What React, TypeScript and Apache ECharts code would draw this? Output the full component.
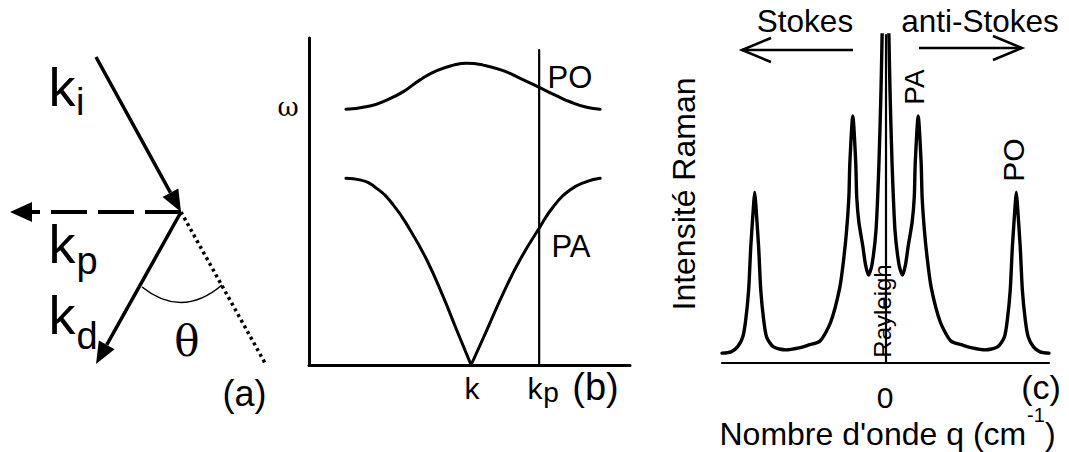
import React, { useEffect, useRef } from 'react';
import * as echarts from 'echarts';

// ---------- Data ----------
// Panel (b): dispersion curves, wavevector 0..10, frequency 0..10
const dispersionPO: number[][] = [
  [1.15, 7.82], [1.9, 7.92], [2.42, 8.1], [2.94, 8.36], [3.46, 8.72], [3.98, 9.0],
  [4.5, 9.17], [4.91, 9.23], [5.43, 9.17], [6.05, 9.0], [6.68, 8.72], [7.17, 8.49],
  [7.72, 8.23], [8.13, 8.05], [8.65, 7.88], [9.07, 7.82],
];
const dispersionPALeft: number[][] = [
  [1.15, 5.71], [1.59, 5.66], [2.11, 5.4], [2.63, 4.89], [3.15, 4.13], [3.67, 3.21],
  [4.18, 2.09], [4.6, 1.07], [5.05, 0],
];
const dispersionPARight: number[][] = [
  [5.05, 0], [5.54, 1.07], [6.05, 2.19], [6.57, 3.21], [7.17, 4.18], [7.61, 4.84],
  [8.13, 5.35], [8.65, 5.61], [9.07, 5.71],
];
const kpValue = 7.17;
const kpTop = 9.63;
const kpLine: number[][] = [[kpValue, 0], [kpValue, kpTop]];

// Panel (c): Raman spectrum, wavenumber -100..100 (arb.), intensity 0..100
const ramanSpectrum: number[][] = [
  [-100, 3.0], [-94.5, 3.4], [-90.5, 4.9], [-87.3, 7.9], [-85.5, 13.1], [-83.7, 22.3],
  [-82.4, 35.4], [-80.6, 48.8], [-80, 52.1], [-79.4, 48.8], [-77.6, 35.4], [-76.3, 22.3],
  [-74.5, 13.1], [-72.7, 7.9], [-68.5, 4.9], [-61, 4.0], [-53, 4.6], [-47, 5.5],
  [-40, 6.7], [-33.5, 12.5], [-28, 22.9], [-25.5, 32], [-23.7, 41], [-22.4, 50.6],
  [-21.8, 61], [-20, 75.3], [-18.2, 61], [-17.6, 50.6], [-16.3, 43], [-13.8, 35.4],
  [-12.2, 29.9], [-10.4, 26.8], [-8.3, 29.9], [-5.8, 40.5], [-4.0, 61], [-2.75, 83.2],
  [-2.1, 99.4], [-1.2, 125], [0, 160], [1.2, 125], [2.1, 99.4], [2.75, 83.2],
  [4.0, 61], [5.8, 40.5], [8.3, 29.9], [10.4, 26.8], [12.2, 29.9], [13.8, 35.4],
  [16.3, 43], [17.6, 50.6], [18.2, 61], [20, 75.3], [21.8, 61], [22.4, 50.6],
  [23.7, 41], [25.5, 32], [28, 22.9], [33.5, 12.5], [40, 6.7], [47, 5.5],
  [53, 4.6], [61, 4.0], [68.5, 4.9], [72.7, 7.9], [74.5, 13.1], [76.3, 22.3],
  [77.6, 35.4], [79.4, 48.8], [80, 52.1], [80.6, 48.8], [82.4, 35.4], [83.7, 22.3],
  [85.5, 13.1], [87.3, 7.9], [90.5, 4.9], [94.5, 3.4], [100, 3.0],
];

const SANS = '"Liberation Sans", Arial, Helvetica, sans-serif';
const SERIF = '"DejaVu Serif", "Liberation Serif", serif';

function arrowHead(from: number[], to: number[], len: number, half: number) {
  const dx = to[0] - from[0];
  const dy = to[1] - from[1];
  const l = Math.sqrt(dx * dx + dy * dy);
  const ux = dx / l, uy = dy / l;
  const nx = -uy, ny = ux;
  const bx = to[0] - len * ux, by = to[1] - len * uy;
  return {
    base: [bx, by],
    points: [[to[0], to[1]], [bx + half * nx, by + half * ny], [bx - half * nx, by - half * ny]],
  };
}

function txt(x: number, y: number, text: string, size: number, opts: any = {}) {
  return {
    type: 'text',
    x,
    y,
    rotation: opts.rotation || 0,
    style: {
      text,
      font: `${size}px ${opts.family || SANS}`,
      fill: '#000',
      textAlign: opts.align || 'center',
      textVerticalAlign: 'middle',
    },
  };
}

export default function App() {
  const ref = useRef<HTMLDivElement>(null);

  useEffect(() => {
    if (!ref.current) return;
    const chart = echarts.init(ref.current, undefined, { renderer: 'svg' });

    const V = [181, 212];
    const kiStart = [96, 57];
    const kdEnd = [96, 364];
    const kpEnd = [10, 212];
    const ki = arrowHead(kiStart, V, 22, 9);
    const kd = arrowHead(V, kdEnd, 22, 9);
    const kp = arrowHead(V, kpEnd, 22, 10);

    const blackLine = (w: number) => ({ stroke: '#000', lineWidth: w, fill: 'none' });

    const graphics: any[] = [
      // panel (a)
      { type: 'line', shape: { x1: kiStart[0], y1: kiStart[1], x2: ki.base[0], y2: ki.base[1] }, style: blackLine(3.5) },
      { type: 'polygon', shape: { points: ki.points }, style: { fill: '#000' } },
      { type: 'line', shape: { x1: V[0], y1: V[1], x2: kd.base[0], y2: kd.base[1] }, style: blackLine(3.5) },
      { type: 'polygon', shape: { points: kd.points }, style: { fill: '#000' } },
      { type: 'line', shape: { x1: V[0], y1: V[1], x2: kp.base[0], y2: kp.base[1] }, style: { ...blackLine(4), lineDash: [36, 11] } },
      { type: 'polygon', shape: { points: kp.points }, style: { fill: '#000' } },
      { type: 'line', shape: { x1: V[0], y1: V[1], x2: 265, y2: 363 }, style: { ...blackLine(3.5), lineDash: [3, 3.5] } },
      { type: 'bezierCurve', shape: { x1: 142, y1: 287, x2: 222, y2: 285, cpx1: 182, cpy1: 319 }, style: blackLine(1.6) },
      txt(48.5, 87, 'k', 54, { align: 'left' }),
      txt(76, 102, 'i', 38, { align: 'left' }),
      txt(48.5, 244, 'k', 54, { align: 'left' }),
      txt(76.5, 261, 'p', 38, { align: 'left' }),
      txt(48.5, 315, 'k', 54, { align: 'left' }),
      txt(76.5, 336, 'd', 38, { align: 'left' }),
      txt(187, 341, 'θ', 42, { family: SERIF }),
      txt(244.5, 393, '(a)', 36),
      // panel (b)
      txt(288, 107, 'ω', 26, { family: SERIF }),
      txt(570, 77, 'PO', 31),
      txt(571, 246, 'PA', 31),
      txt(472, 388, 'k', 30),
      txt(535, 388, 'k', 30),
      txt(551, 392, 'p', 28),
      txt(595.5, 387, '(b)', 38),
      // panel (c)
      txt(805, 21, 'Stokes', 31.5),
      txt(980, 21, 'anti-Stokes', 31.5),
      { type: 'polyline', shape: { points: [[853, 50], [742, 50]] }, style: blackLine(2.5) },
      { type: 'polyline', shape: { points: [[771, 38], [742, 50], [771, 62]] }, style: blackLine(2.5) },
      { type: 'polyline', shape: { points: [[919, 48], [1022, 48]] }, style: blackLine(2.5) },
      { type: 'polyline', shape: { points: [[993, 36], [1022, 48], [993, 60]] }, style: blackLine(2.5) },
      txt(684, 194, 'Intensité Raman', 32, { rotation: Math.PI / 2 }),
      txt(914, 87, 'PA', 28, { rotation: Math.PI / 2 }),
      txt(1013, 160, 'PO', 30, { rotation: Math.PI / 2 }),
      txt(882, 311, 'Rayleigh', 24, { rotation: Math.PI / 2 }),
      txt(885, 397, '0', 30),
      txt(1041, 387, '(c)', 34),
      txt(719.5, 434, "Nombre d'onde q (cm", 32, { align: 'left' }),
      txt(1027, 415, '-1', 20, { align: 'left' }),
      txt(1045, 434, ')', 32, { align: 'left' }),
    ];

    const axisCommon = (w: number) => ({
      axisLine: { show: true, onZero: true, lineStyle: { color: '#000', width: w } },
      axisTick: { show: false },
      axisLabel: { show: false },
      splitLine: { show: false },
    });

    const lineSeries = (data: number[][], idx: number, width: number, smooth: number | boolean) => ({
      type: 'line',
      data,
      xAxisIndex: idx,
      yAxisIndex: idx,
      symbol: 'none',
      smooth,
      clip: true,
      lineStyle: { color: '#000', width, join: 'round', cap: 'round' },
    });

    chart.setOption({
      animation: false,
      backgroundColor: '#fff',
      grid: [
        { left: 309, top: 38, width: 321, height: 327 },
        { left: 722, top: 35, width: 327, height: 328 },
      ],
      xAxis: [
        { type: 'value', gridIndex: 0, min: 0, max: 10, ...axisCommon(3) },
        { type: 'value', gridIndex: 1, min: -100, max: 100, ...axisCommon(2.2) },
      ],
      yAxis: [
        { type: 'value', gridIndex: 0, min: 0, max: 10, ...axisCommon(3) },
        { type: 'value', gridIndex: 1, min: 0, max: 100, ...axisCommon(2.2) },
      ],
      series: [
        lineSeries(dispersionPO, 0, 3, 0.5),
        lineSeries(dispersionPALeft, 0, 3, 0.5),
        lineSeries(dispersionPARight, 0, 3, 0.5),
        lineSeries(kpLine, 0, 2.2, false),
        lineSeries(ramanSpectrum, 1, 3.4, 0.25),
      ],
      graphic: graphics,
    });

    return () => chart.dispose();
  }, []);

  return (
    <div
      ref={ref}
      style={{ position: 'fixed', left: 0, top: 0, width: 1069, height: 452, background: '#fff' }}
    />
  );
}
